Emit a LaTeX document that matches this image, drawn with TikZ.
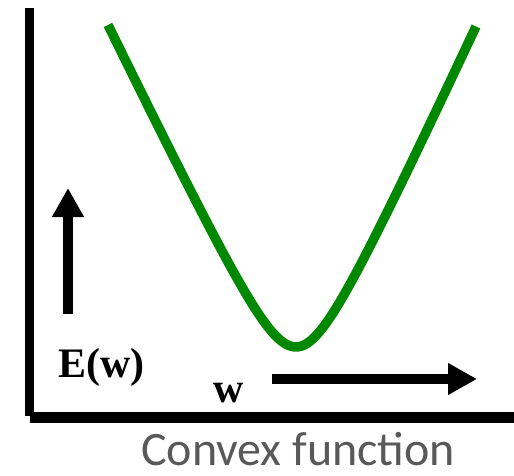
\documentclass[tikz,border=0pt]{standalone}
\usepackage{fontspec}
\setmainfont{Liberation Serif}
\newfontfamily\capfont{Carlito}
\usetikzlibrary{arrows.meta}
\definecolor{curvegreen}{RGB}{0,137,0}
\definecolor{captiongray}{RGB}{89,89,89}
\begin{document}
\begin{tikzpicture}[x=1pt,y=-1pt,
  axisline/.style={line width=10pt,black},
  bigarrow/.style={line width=9.5pt,black,-{Triangle[length=29pt,width=30pt]}},
  lbl/.style={inner sep=0pt,anchor=base west,font=\fontsize{42}{48}\selectfont\bfseries},
  caption/.style={inner sep=0pt,anchor=base west,text=captiongray,font=\capfont\fontsize{48}{54}\selectfont}]
\useasboundingbox (0,0) rectangle (514,476);
% axes
\coordinate (ytop) at (29.5,8);
\coordinate (ybot) at (29.5,416);
\coordinate (xleft) at (30,417.5);
\coordinate (xright) at (514,417.5);
\draw[axisline,line width=9pt] (ytop) -- (ybot);
\draw[axisline,line width=11pt] (xleft) -- (xright);
% direction arrows
\coordinate (upS) at (68,314);
\coordinate (upE) at (68,188);
\draw[bigarrow] (upS) -- (upE);
\coordinate (rtS) at (272,379);
\coordinate (rtE) at (477,379);
\draw[bigarrow,line width=10pt] (rtS) -- (rtE);
% curve (hyperbola-like convex function)
\draw[curvegreen,line width=9.5pt] plot[domain=-18.8:18.0,samples=121,variable=\u]
  ({296+10*\u},{347-(2.07+0.1*(\u>0))*10*(sqrt(\u*\u+12.82)-3.58)});
% labels
\node[lbl] (ew) at (58,377) {E(w)};
\node[lbl] (w) at (213,402) {w};
\node[caption] (cap) at (141,465) {Convex function};
\end{tikzpicture}
\end{document}
